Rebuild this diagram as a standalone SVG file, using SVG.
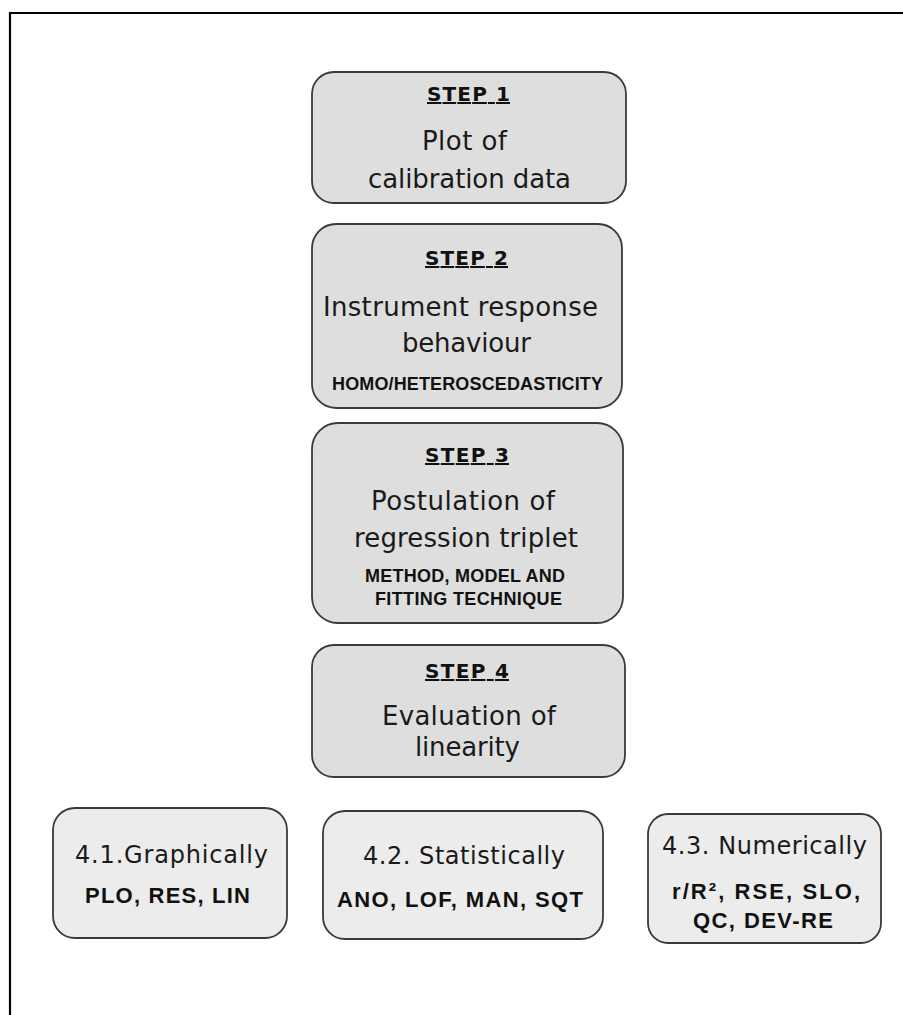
<svg xmlns="http://www.w3.org/2000/svg" width="903" height="1015" viewBox="0 0 903 1015">
<style>
.step{fill:#dedede;stroke:#3a3a3a;stroke-width:1.8}
.sub{fill:#ececec;stroke:#3a3a3a;stroke-width:1.8}
.hd{font-family:"DejaVu Sans",Verdana,sans-serif;font-weight:bold;font-size:20px;fill:#111;text-decoration:underline}
.tx{font-family:"DejaVu Sans",Verdana,sans-serif;font-size:26px;fill:#1a1a1a}
.sm{font-family:"Liberation Sans",Arial,sans-serif;font-weight:bold;font-size:18px;fill:#111}
.bd{font-family:"Liberation Sans",Arial,sans-serif;font-weight:bold;font-size:22px;fill:#111}
.t2{font-family:"DejaVu Sans",Verdana,sans-serif;font-size:24px;fill:#1a1a1a}
</style>
<rect width="903" height="1015" fill="#fff"/>
<path d="M10,1015 V13 H903" fill="none" stroke="#000" stroke-width="2.2"/>
<g id="connectors"></g>
<g id="step1">
<rect class="step" x="312" y="72" width="314" height="131" rx="22"/>
<text class="hd" x="427" y="101" textLength="83" lengthAdjust="spacing">STEP 1</text>
<text class="tx" x="422" y="150" textLength="85" lengthAdjust="spacing">Plot of</text>
<text class="tx" x="368" y="188" textLength="203" lengthAdjust="spacing">calibration data</text>
</g>
<g id="step2">
<rect class="step" x="312" y="224" width="310" height="184" rx="24"/>
<text class="hd" x="425" y="265" textLength="83" lengthAdjust="spacing">STEP 2</text>
<text class="tx" x="323" y="316" textLength="275" lengthAdjust="spacing">Instrument response</text>
<text class="tx" x="402" y="352" textLength="129" lengthAdjust="spacing">behaviour</text>
<text class="sm" x="332" y="390" textLength="271" lengthAdjust="spacing">HOMO/HETEROSCEDASTICITY</text>
</g>
<g id="step3">
<rect class="step" x="312" y="423" width="311" height="200" rx="26"/>
<text class="hd" x="425" y="462" textLength="84" lengthAdjust="spacing">STEP 3</text>
<text class="tx" x="371" y="510" textLength="184" lengthAdjust="spacing">Postulation of</text>
<text class="tx" x="354" y="547" textLength="224" lengthAdjust="spacing">regression triplet</text>
<text class="sm" x="365" y="582" textLength="200" lengthAdjust="spacing">METHOD, MODEL AND</text>
<text class="sm" x="375" y="605" textLength="187" lengthAdjust="spacing">FITTING TECHNIQUE</text>
</g>
<g id="step4">
<rect class="step" x="312" y="645" width="313" height="132" rx="22"/>
<text class="hd" x="425" y="678" textLength="84" lengthAdjust="spacing">STEP 4</text>
<text class="tx" x="382" y="725" textLength="174" lengthAdjust="spacing">Evaluation of</text>
<text class="tx" x="415" y="756" textLength="105" lengthAdjust="spacing">linearity</text>
</g>
<g id="sub1">
<rect class="sub" x="53" y="808" width="234" height="130" rx="22"/>
<text class="t2" x="75" y="863" textLength="193" lengthAdjust="spacing">4.1.Graphically</text>
<text class="bd" x="85" y="903" textLength="165" lengthAdjust="spacing">PLO, RES, LIN</text>
</g>
<g id="sub2">
<rect class="sub" x="323" y="811" width="280" height="128" rx="22"/>
<text class="t2" x="363" y="864" textLength="202" lengthAdjust="spacing">4.2. Statistically</text>
<text class="bd" x="337" y="907" textLength="246" lengthAdjust="spacing">ANO, LOF, MAN, SQT</text>
</g>
<g id="sub3">
<rect class="sub" x="648" y="814" width="233" height="129" rx="20"/>
<text class="t2" x="662" y="854" textLength="205" lengthAdjust="spacing">4.3. Numerically</text>
<text class="bd" x="672" y="899" textLength="188" lengthAdjust="spacing">r/R², RSE, SLO,</text>
<text class="bd" x="693" y="928" textLength="140" lengthAdjust="spacing">QC, DEV-RE</text>
</g>
</svg>
